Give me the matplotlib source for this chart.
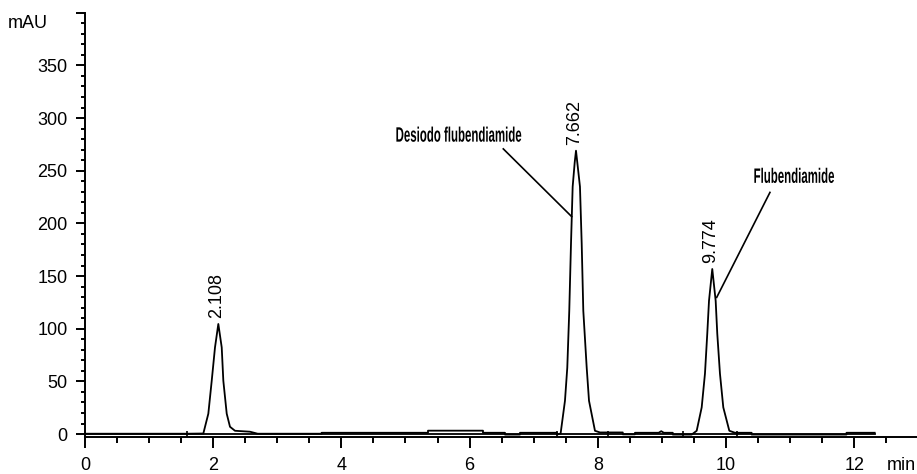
import matplotlib.pyplot as plt
from matplotlib.ticker import MultipleLocator
from matplotlib.patheffects import AbstractPathEffect
from matplotlib.transforms import Affine2D
import numpy as np

# chromatogram trace (min, mAU)
trace_time = [
    0.0, 1.587, 1.846, 1.924, 1.977, 2.028, 2.080, 2.133, 2.158, 2.211, 2.262, 2.34, 2.574, 2.694,
    3.692, 3.692, 5.351, 5.351, 6.209, 6.209, 6.552, 6.552, 6.786, 6.786, 7.363, 7.363,
    7.42, 7.488, 7.524, 7.555, 7.582, 7.608, 7.640, 7.660, 7.680, 7.722, 7.749, 7.774, 7.827, 7.863,
    7.956, 8.034, 8.39, 8.39, 8.58, 8.58, 8.95, 8.99, 9.03, 9.17, 9.17,
    9.465, 9.543, 9.621, 9.672, 9.708, 9.735, 9.786, 9.839, 9.864, 9.906, 9.958, 10.052, 10.14,
    10.40, 10.40, 11.88, 11.88, 12.32,
]
trace_mau = [
    0.3, 0.3, 0.5, 19.3, 50.6, 82.2, 104.5, 82.2, 50.6, 19.3, 6.9, 3.1, 2.2, 0.3,
    0.3, 1.2, 1.2, 3.2, 3.2, 1.2, 1.2, -0.5, -0.5, 1.2, 1.2, -0.5,
    0.5, 31.6, 63.0, 117.0, 180.7, 234.8, 258.0, 269.0, 258.0, 234.8, 180.7, 117.0, 63.0, 31.6,
    3.1, 1.5, 1.5, -0.3, -0.3, 1.2, 1.2, 2.7, 1.2, 1.2, -0.5,
    -0.5, 3.1, 25.3, 57.3, 95.3, 126.5, 156.7, 126.5, 95.3, 57.3, 25.3, 3.1, 1.2,
    1.2, -0.5, -0.5, 1.2, 1.2,
]

peak_times = [2.108, 7.662, 9.774]
peak_labels = ["2.108", "7.662", "9.774"]

# integration event marks
event_times = [1.587, 7.363, 8.159, 9.33, 10.17]

compound_names = ["Desiodo flubendiamide", "Flubendiamide"]
name_pos = [(6.838, 282.8), (10.421, 243.7)]
name_align = ["right", "left"]
leader_start = [(6.526, 270.7), (10.686, 229.4)]
leader_end = [(7.593, 206.4), (9.855, 129.7)]


class SqueezeX(AbstractPathEffect):
    # narrow the glyphs horizontally, keeping one edge fixed (condensed look)
    def __init__(self, sx, anchor="left"):
        super().__init__()
        self.sx = sx
        self.anchor = anchor

    def draw_path(self, renderer, gc, tpath, affine, rgbFace=None):
        ext = affine.transform_path(tpath).get_extents()
        x0 = ext.x1 if self.anchor == "right" else ext.x0
        extra = Affine2D().translate(-x0, 0).scale(self.sx, 1).translate(x0, 0)
        renderer.draw_path(gc, tpath, affine + extra, rgbFace)


plt.rcParams["font.family"] = ["Liberation Sans", "DejaVu Sans"]

fig = plt.figure(figsize=(9.17, 4.74), dpi=100)
ax = fig.add_axes([85 / 917, (474 - 437.3) / 474, (917 - 85) / 917, (437.3 - 12.7) / 474])

t = np.array(trace_time)
y = np.array(trace_mau)
ax.plot([0, 12.32], [0, 0], color="black", lw=1.3)
ax.plot(t, y, color="black", lw=1.3)
ax.vlines(event_times, -3.0, 3.0, color="black", lw=1.2)

for pt, lab in zip(peak_times, peak_labels):
    win = (t > pt - 0.12) & (t < pt + 0.12)
    apex = y[win].max()
    ax.annotate(lab, xy=(t[win][np.argmax(y[win])], apex), xytext=(-1, 4),
                textcoords="offset points", rotation=90, ha="center", va="bottom",
                fontsize=13)

for name, pos, al, s, e in zip(compound_names, name_pos, name_align, leader_start, leader_end):
    ax.text(pos[0], pos[1], name, ha=al, va="center", fontsize=15, fontweight="bold",
            path_effects=[SqueezeX(0.55, al)])
    ax.plot([s[0], e[0]], [s[1], e[1]], color="black", lw=1.2)

ax.set_xlim(0, 12.98)
ax.set_ylim(-3.1, 400)
ax.set_xticks(range(0, 13, 2))
ax.xaxis.set_minor_locator(MultipleLocator(0.5))
ax.set_yticks(range(0, 401, 50))
ax.set_yticklabels([str(v) for v in range(0, 351, 50)] + [""])
ax.yaxis.set_minor_locator(MultipleLocator(10))

for side in ["top", "right"]:
    ax.spines[side].set_visible(False)
for side in ["left", "bottom"]:
    ax.spines[side].set_linewidth(1.4)

ax.tick_params(axis="x", which="major", length=8, width=1.4, pad=6, labelsize=13)
ax.tick_params(axis="x", which="minor", length=4.5, width=1.4)
ax.tick_params(axis="y", which="major", length=6.5, width=1.4, pad=6, labelsize=13)
ax.tick_params(axis="y", which="minor", length=3, width=1.4)

fig.text(8 / 917, 1 - 24 / 474, "mAU", ha="left", va="center", fontsize=13)
fig.text(887 / 917, 1 - 466 / 474, "min", ha="left", va="center", fontsize=13)

fig.savefig("out.png", dpi=100)
